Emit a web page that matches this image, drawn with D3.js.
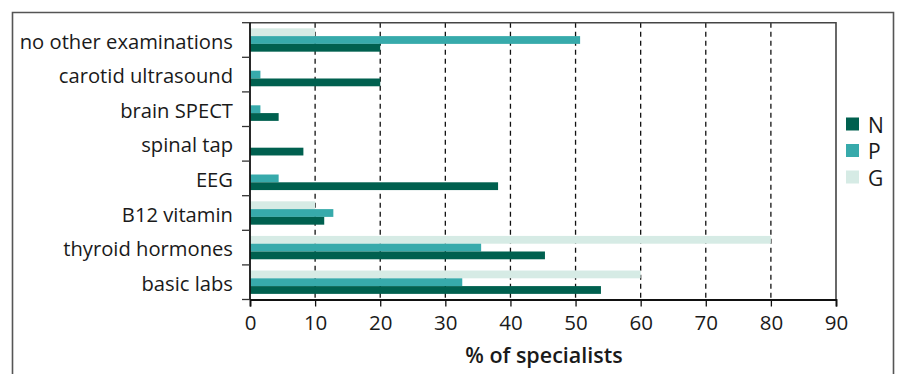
<!DOCTYPE html>
<html><head><meta charset="utf-8">
<script src="https://cdn.jsdelivr.net/npm/d3@7/dist/d3.min.js"></script>
<style>body{margin:0;background:#fff;} text{font-family:"Open Sans","Noto Sans",sans-serif;fill:#1a1a1a;}</style>
</head><body><svg id="c" width="898" height="374"></svg>
<script>
const categories = ["no other examinations","carotid ultrasound","brain SPECT","spinal tap","EEG","B12 vitamin","thyroid hormones","basic labs"];
const seriesNames = ["G","P","N"];
const valuesN = [20, 20, 4.4, 8.2, 38.1, 11.4, 45.3, 53.9];
const valuesP = [50.7, 1.6, 1.6, 0, 4.4, 12.8, 35.5, 32.6];
const valuesG = [10, 0, 0, 0, 0, 10, 80, 60];
const xTicks = [0,10,20,30,40,50,60,70,80,90];
const legendOrder = ["N","P","G"];
const colors = {N:"#00604f", P:"#37aaab", G:"#d6ebe5"};

const svg = d3.select("#c");
const L = 250, R = 836, T = 22.7, B = 299.5;
const x = d3.scaleLinear().domain([0,90]).range([L,R]);
const y = d3.scaleBand().domain(categories).range([T,B]).paddingInner(0.325).paddingOuter(0.1625);
const yRow = d3.scaleBand().domain(categories).range([T,B]).padding(0);
const ySub = d3.scaleBand().domain(seriesNames).range([0,y.bandwidth()]);
const data = {N:valuesN, P:valuesP, G:valuesG};

// outer frame
svg.append("path").attr("d",`M12.5,374 V12.5 H893.5 V374`).attr("fill","none").attr("stroke","#555").attr("stroke-width",1.6);

// grid
svg.append("g").selectAll("line").data(xTicks.filter(d=>d>0&&d<90)).join("line")
  .attr("x1",d=>x(d)).attr("x2",d=>x(d)).attr("y1",T).attr("y2",B)
  .attr("stroke","#111").attr("stroke-width",1.3).attr("stroke-dasharray","5,4");

// bars
seriesNames.forEach(s=>{
  svg.append("g").selectAll("rect").data(categories.map((c,i)=>({c,v:data[s][i]}))).join("rect")
    .attr("x",x(0)).attr("y",d=>y(d.c)+ySub(s)).attr("height",ySub.bandwidth())
    .attr("width",d=>x(d.v)-x(0)).attr("fill",colors[s]);
});

// plot frame top and right
svg.append("path").attr("d",`M${L},${T} H${R} V${B}`).attr("fill","none").attr("stroke","#444").attr("stroke-width",1.6);

// x axis
const xa = svg.append("g").attr("transform",`translate(0,${B})`)
  .call(d3.axisBottom(x).tickValues(xTicks).tickSize(7).tickPadding(9));
xa.select(".domain").attr("stroke","#111").attr("stroke-width",1.8);
xa.selectAll(".tick line").attr("stroke","#111").attr("stroke-width",1.3);
xa.selectAll("text").attr("font-size",20.5).attr("fill","#1a1a1a").attr("font-family","'Open Sans',sans-serif");

// y axis: line + boundary ticks
svg.append("line").attr("x1",L).attr("x2",L).attr("y1",T).attr("y2",B).attr("stroke","#111").attr("stroke-width",1.8);
const bounds = categories.map(c=>yRow(c)).concat([B]);
svg.append("g").selectAll("line").data(bounds).join("line")
  .attr("x1",L-8).attr("x2",L).attr("y1",d=>d).attr("y2",d=>d).attr("stroke","#333").attr("stroke-width",1.3);
svg.append("g").selectAll("text").data(categories).join("text")
  .attr("x",233).attr("y",d=>yRow(d)+yRow.bandwidth()/2+1.5).attr("dy","0.35em")
  .attr("text-anchor","end").attr("font-size",20.2).text(d=>d);

// x title
svg.append("text").attr("x",544).attr("y",363).attr("text-anchor","middle")
  .attr("font-size",21.5).attr("font-weight",600).text("% of specialists");

// legend
const lg = svg.append("g");
legendOrder.forEach((s,i)=>{
  const cy = 124 + i*26.5;
  lg.append("rect").attr("x",846).attr("y",cy-6.5).attr("width",13).attr("height",13).attr("fill",colors[s]);
  lg.append("text").attr("x",868).attr("y",cy+1).attr("dy","0.36em").attr("font-size",21).text(s);
});
</script></body></html>
